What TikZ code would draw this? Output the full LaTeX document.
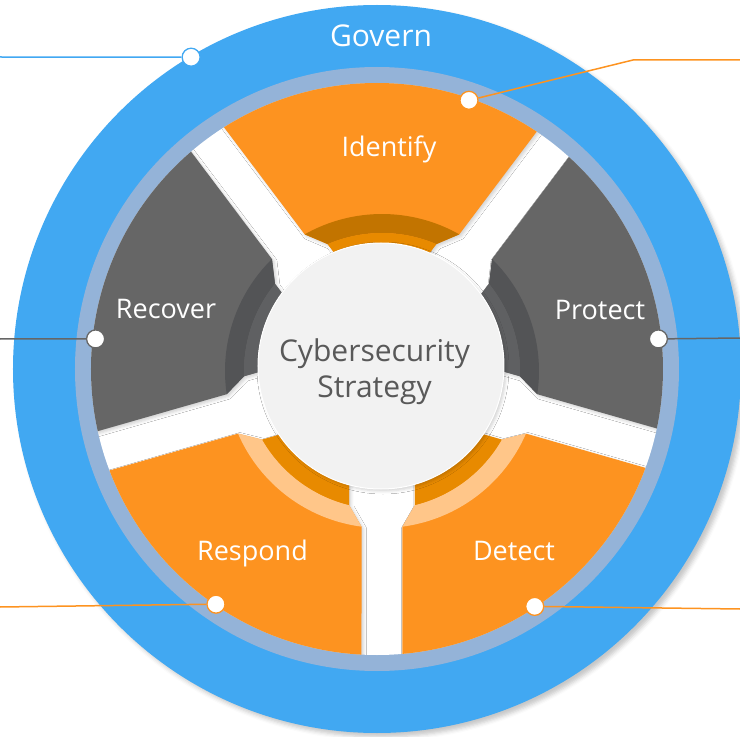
\documentclass[tikz,border=0pt]{standalone}
\usepackage{fontspec}
\setmainfont{Open Sans}
\usetikzlibrary{shadows.blur}
\usepackage{xcolor}
\definecolor{governblue}{HTML}{41A8F2}
\definecolor{ringblue}{HTML}{94B3D8}
\definecolor{mainorange}{HTML}{FD9320}
\definecolor{deeporange}{HTML}{C27400}
\definecolor{midorange}{HTML}{E88A00}
\definecolor{paleorange}{HTML}{FFC689}
\definecolor{maingrey}{HTML}{666666}
\definecolor{deepgrey}{HTML}{535456}
\definecolor{midgrey}{HTML}{5F6062}
\definecolor{hubgrey}{HTML}{F2F2F2}
\definecolor{hubtext}{HTML}{595959}
\tikzset{%
	label text/.style={
		text=white,
		anchor=base,
		font=\fontsize{27}{32}\selectfont
	},
	hub text/.style={
		text=hubtext,
		align=center,
		font=\fontsize{30}{36}\selectfont
	},
	callout/.style={
		line width=1.5pt
	},
	dot/.style={
		circle,
		fill=white,
		draw=#1,
		line width=1.3pt,
		minimum size=18pt,
		inner sep=0pt
	},
	part shadow/.style={
		blur shadow={shadow xshift=2pt, shadow yshift=-2pt, shadow blur radius=3pt, shadow opacity=18}
	},
}

% one part of the wheel between the spokes #1 and #2, colours: #3 face, #4 outer band, #5 inner band
\newcommand{\wheelpart}[5]{%
	\pgfmathsetmacro{\pA}{#1+asin(20.5/300)}%
	\pgfmathsetmacro{\pB}{#2-asin(20.5/300)}%
	\pgfmathsetmacro{\qA}{#1+asin(20.5/157)}%
	\pgfmathsetmacro{\qB}{#2-asin(20.5/157)}%
	\pgfmathsetmacro{\sA}{#1+asin(33/138)}%
	\pgfmathsetmacro{\sB}{#2-asin(33/138)}%
	\pgfmathsetmacro{\tA}{#1+asin(33/100)}%
	\pgfmathsetmacro{\tB}{#2-asin(33/100)}%
	% whole outline first, its shadow falls into the gaps
	\fill[#3, part shadow] (\pA:300) arc[start angle=\pA, end angle=\pB, radius=300]
		-- (\qB:157) -- (\sB:138) -- (\tB:100)
		arc[start angle=\tB, end angle=\tA, radius=100]
		-- (\sA:138) -- (\qA:157) -- cycle;
	% bands next to the hub
	\fill[#4] (\qA:157) arc[start angle=\qA, end angle=\qB, radius=157]
		-- (\sB:138) arc[start angle=\sB, end angle=\sA, radius=138] -- cycle;
	\fill[#5] (\sA:138) arc[start angle=\sA, end angle=\sB, radius=138]
		-- (\tB:100) arc[start angle=\tB, end angle=\tA, radius=100] -- cycle;
}

\begin{document}
\begin{tikzpicture}[x=1pt, y=1pt]
	\useasboundingbox (-377,-368) rectangle (363,369);
	
	% Govern ring
	\fill[governblue, blur shadow={shadow xshift=4pt, shadow yshift=-4pt, shadow blur radius=4pt, shadow opacity=22}] (0,0) circle[radius=364];
	\fill[ringblue] (0,0) circle[radius=302];
	\fill[white] (0,0) circle[radius=286];
	
	% the five parts around the hub
	\begin{scope}
		\clip (0,0) circle[radius=286];
		\begin{scope}[shift={(5,-2)}]
			\wheelpart{53}{127}{mainorange}{deeporange}{midorange}   % Identify
			\wheelpart{-16}{53}{maingrey}{deepgrey}{midgrey}         % Protect
			\wheelpart{-90}{-16}{mainorange}{paleorange}{midorange}  % Detect
			\wheelpart{196}{270}{mainorange}{paleorange}{midorange}  % Respond
			\wheelpart{127}{196}{maingrey}{deepgrey}{midgrey}        % Recover
		\end{scope}
	\end{scope}
	
	% Hub
	\node[circle, fill=hubgrey, draw=white, line width=1pt, minimum size=246pt, part shadow] (hub) at (4,3) {};
	\node[hub text] (strategy) at (-2.5,-3) {Cybersecurity\\Strategy};
	
	% Labels
	\node[label text, font=\fontsize{30}{32}\selectfont] (govern) at (4,322) {Govern};
	\node[label text] (identify) at (12,212) {Identify};
	\node[label text] (protect) at (223,49) {Protect};
	\node[label text] (detect) at (137,-191) {Detect};
	\node[label text] (respond) at (-124.5,-191) {Respond};
	\node[label text] (recover) at (-211,51) {Recover};
	
	% Callout dots and lines
	\node[dot=governblue] (govdot) at (120.8:363) {};
	\node[dot=mainorange] (iddot) at (71.1:284) {};
	\node[dot=maingrey] (prdot) at (6.1:283) {};
	\node[dot=mainorange] (dedot) at (-56.4:285) {};
	\node[dot=mainorange] (rsdot) at (235.6:285) {};
	\node[dot=maingrey] (rcdot) at (173.9:283) {};
	
	\coordinate (govend) at (-377,312);
	\coordinate (idbend) at (256,309);
	\coordinate (idend) at (363,309);
	\coordinate (prend) at (363,31);
	\coordinate (deend) at (363,-240);
	\coordinate (rsend) at (-377,-238);
	\coordinate (rcend) at (-377,30);
	
	\draw[callout, governblue] (govdot) -- (govend);
	\draw[callout, mainorange] (iddot) -- (idbend) -- (idend);
	\draw[callout, maingrey] (prdot) -- (prend);
	\draw[callout, mainorange] (dedot) -- (deend);
	\draw[callout, mainorange] (rsdot) -- (rsend);
	\draw[callout, maingrey] (rcdot) -- (rcend);
	
\end{tikzpicture}
\end{document}
